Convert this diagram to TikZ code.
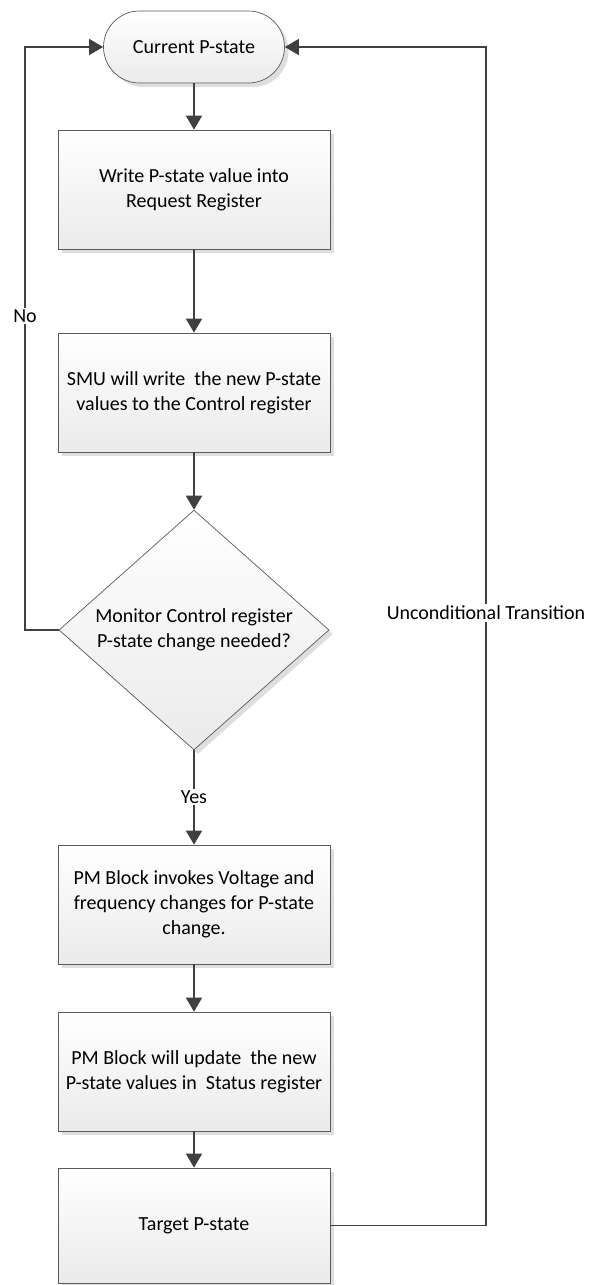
\documentclass[tikz,border=0pt]{standalone}
\usepackage{fontspec}
\setmainfont{Carlito}
\usetikzlibrary{shapes.geometric,shadows,arrows.meta}
\definecolor{linegray}{HTML}{404040}
\definecolor{edgegray}{HTML}{5A5A5A}
\begin{document}
\begin{tikzpicture}[x=1pt,y=-1pt,
  font=\fontsize{20pt}{25pt}\selectfont,
  shapebase/.style={draw=edgegray, line width=0.7pt, top color=white, bottom color=black!8,
    drop shadow={shadow xshift=4pt, shadow yshift=-4pt, fill=black!13, opacity=1},
    align=center, inner sep=2pt},
  procbox/.style={shapebase, rectangle, minimum width=272pt, minimum height=119pt},
  termbox/.style={shapebase, rectangle, rounded corners=36pt, minimum width=181pt, minimum height=72pt},
  decbox/.style={shapebase, diamond, minimum width=270pt, minimum height=236pt, inner sep=0pt},
  arr/.style={draw=linegray, line width=1.8pt, -{Triangle[length=14pt,width=16pt]}},
  lbl/.style={fill=white, inner sep=1.5pt}]
\useasboundingbox (0,0) rectangle (597,1285);

% flow nodes
\node[termbox] (t) at (194,47) {Current P-state};
\node[procbox] (b1) at (194,189.5) {Write P-state value into\\Request Register};
\node[procbox] (b2) at (194,392.5) {SMU will write\ \ the new P-state\\values to the Control register};
\node[decbox] (d) at (194,630) {Monitor Control register\\P-state change needed?};
\node[procbox] (b3) at (194,904.5) {PM Block invokes Voltage and\\frequency changes for P-state\\change.};
\node[procbox] (b4) at (194,1071.5) {PM Block will update\ \ the new\\P-state values in\ \ Status register};
\node[procbox, minimum height=115pt] (b5) at (194,1225.5) {Target P-state};

% return-path corners
\coordinate (nol) at (25,630);
\coordinate (nolabel) at (25,316);
\coordinate (ur) at (486,1225.5);
\coordinate (urlabel) at (486,613);

% main flow
\draw[arr] (t) -- (b1);
\draw[arr] (b1) -- (b2);
\draw[arr] (b2) -- (d);
\draw[arr] (d) -- node[lbl, pos=0.5] {Yes} (b3);
\draw[arr] (b3) -- (b4);
\draw[arr] (b4) -- (b5);

% loops back to the current state
\draw[arr] (d.west) -- (nol) |- (t.west);
\node[lbl] (no) at (nolabel) {No};
\draw[arr] (b5.east) -- (ur) |- (t.east);
\node[lbl] (uncond) at (urlabel) {Unconditional Transition};
\end{tikzpicture}
\end{document}
